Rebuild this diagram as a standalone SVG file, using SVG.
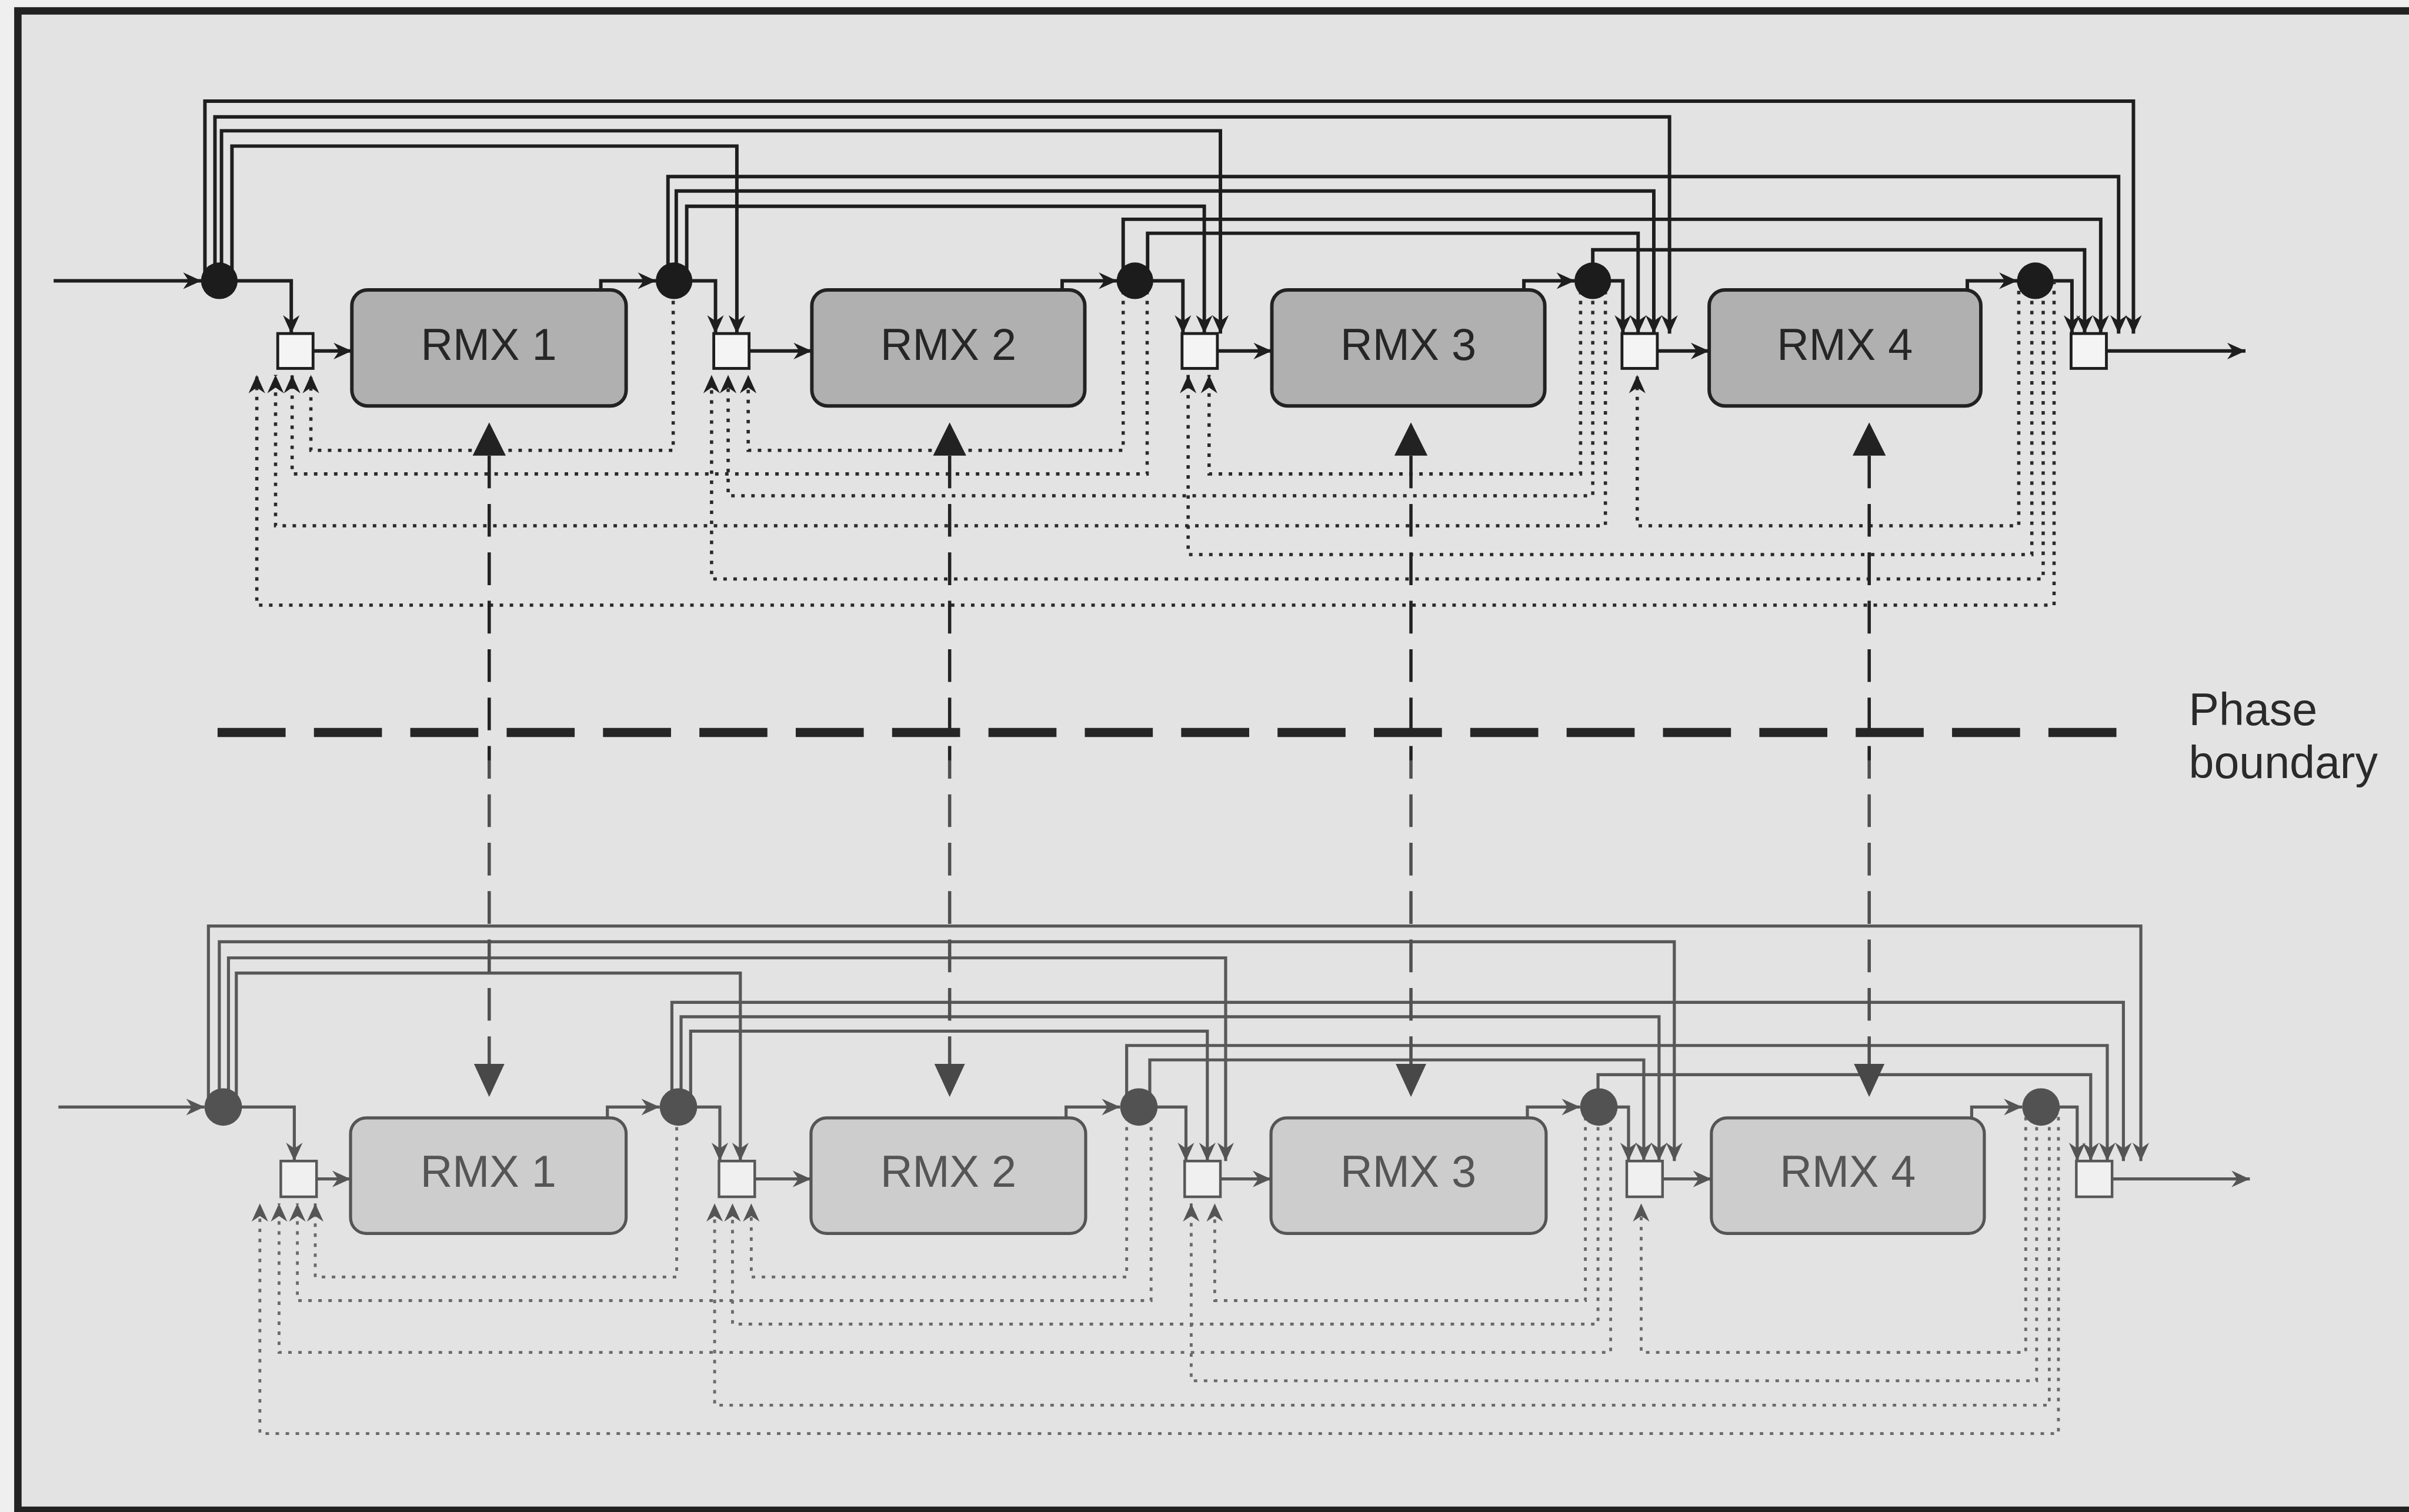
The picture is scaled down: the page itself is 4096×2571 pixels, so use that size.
<svg xmlns="http://www.w3.org/2000/svg" width="4096" height="2571" viewBox="0 0 4096 2571">
<defs>
<marker id="a" viewBox="-44 -22 46 44" markerWidth="46" markerHeight="44" refX="0" refY="0" orient="auto" markerUnits="userSpaceOnUse"><path d="M0,0 L-42,-19 L-29,0 L-42,19 Z" fill="#1e1e1e"/></marker>
<marker id="ag" viewBox="-44 -22 46 44" markerWidth="46" markerHeight="44" refX="0" refY="0" orient="auto" markerUnits="userSpaceOnUse"><path d="M0,0 L-42,-19 L-29,0 L-42,19 Z" fill="#555"/></marker>
<style>
.ln{fill:none;stroke:#1e1e1e;stroke-width:8;marker-end:url(#a)}
.lg{fill:none;stroke:#585858;stroke-width:7;marker-end:url(#ag)}
.dt{fill:none;stroke:#2a2a2a;stroke-width:7.5;stroke-dasharray:8 15;marker-end:url(#a)}
.dg{fill:none;stroke:#6a6a6a;stroke-width:6.5;stroke-dasharray:8 15;marker-end:url(#ag)}
.bt{fill:#1c1c1c}
.bg{fill:#525252}
.mt{fill:#f4f4f4;stroke:#1e1e1e;stroke-width:6.5}
.mg{fill:#f0f0f0;stroke:#585858;stroke-width:6}
.rt{fill:#b0b0b0;stroke:#222;stroke-width:8}
.rg{fill:#cdcdcd;stroke:#555;stroke-width:7}
.tt{font-family:"Liberation Sans",Arial,sans-serif;font-size:102px;fill:#262626;text-anchor:middle}
.tg{font-family:"Liberation Sans",Arial,sans-serif;font-size:102px;fill:#555;text-anchor:middle}
.ph{fill:none;stroke-width:7.5;stroke-dasharray:75 36}
</style>
</defs>
<rect x="0" y="0" width="4096" height="2571" fill="#efefef"/>
<g transform="scale(0.741357)">
<rect id="frame" x="41" y="25" width="5600" height="3439" fill="#e3e3e3" stroke="#222" stroke-width="17"/>

<g id="connectors">
<!-- top phase -->
<path class="ln" d="M123,644 H462"/>
<path class="ln" d="M503,644 H668 V765"/>
<path class="ln" d="M1546,644 H1641 V765"/>
<path class="ln" d="M2603,644 H2713 V765"/>
<path class="ln" d="M3653,644 H3722 V765"/>
<path class="ln" d="M4668,644 H4752 V765"/>
<path class="ln" d="M718,805 H807"/>
<path class="ln" d="M1718,805 H1862"/>
<path class="ln" d="M2792,805 H2917"/>
<path class="ln" d="M3801,805 H3920"/>
<path class="ln" d="M1378,665 V644 H1505"/>
<path class="ln" d="M2436,665 V644 H2562"/>
<path class="ln" d="M3495,665 V644 H3612"/>
<path class="ln" d="M4512,665 V644 H4627"/>
<path class="ln" d="M4831,805 H5150"/>
<path class="ln" d="M470,644 V232 H4893 V765"/>
<path class="ln" d="M493,644 V268 H3829 V765"/>
<path class="ln" d="M508,644 V300 H2799 V765"/>
<path class="ln" d="M532,644 V335 H1690 V765"/>
<path class="ln" d="M1532,644 V405 H4859 V765"/>
<path class="ln" d="M1551,644 V438 H3793 V765"/>
<path class="ln" d="M1575,644 V473 H2762 V765"/>
<path class="ln" d="M2576,644 V503 H4818 V765"/>
<path class="ln" d="M2632,644 V535 H3757 V765"/>
<path class="ln" d="M3653,644 V573 H4781 V765"/>
<path class="dt" d="M1544,644 V1033 H713 V860"/>
<path class="dt" d="M2576,644 V1033 H1716 V860"/>
<path class="dt" d="M2631,644 V1087 H670 V860"/>
<path class="dt" d="M3625,644 V1087 H2773 V860"/>
<path class="dt" d="M3653,644 V1137 H1670 V860"/>
<path class="dt" d="M3682,644 V1206 H632 V860"/>
<path class="dt" d="M4630,644 V1206 H3755 V860"/>
<path class="dt" d="M4660,644 V1272 H2725 V860"/>
<path class="dt" d="M4686,644 V1328 H1632 V860"/>
<path class="dt" d="M4711,644 V1388 H589 V860"/>
<!-- bottom phase -->
<path class="lg" d="M134,2539 H469"/>
<path class="lg" d="M512,2539 H675 V2663"/>
<path class="lg" d="M1556,2539 H1651 V2663"/>
<path class="lg" d="M2612,2539 H2720 V2663"/>
<path class="lg" d="M3667,2539 H3735 V2663"/>
<path class="lg" d="M4681,2539 H4764 V2663"/>
<path class="lg" d="M726,2704 H804"/>
<path class="lg" d="M1731,2704 H1860"/>
<path class="lg" d="M2799,2704 H2915"/>
<path class="lg" d="M3813,2704 H3925"/>
<path class="lg" d="M1393,2564 V2539 H1513"/>
<path class="lg" d="M2445,2564 V2539 H2569"/>
<path class="lg" d="M3503,2564 V2539 H3624"/>
<path class="lg" d="M4522,2564 V2539 H4638"/>
<path class="lg" d="M4844,2704 H5160"/>
<path class="lg" d="M478,2539 V2124 H4910 V2663"/>
<path class="lg" d="M503,2539 V2160 H3840 V2663"/>
<path class="lg" d="M524,2539 V2197 H2811 V2663"/>
<path class="lg" d="M542,2539 V2232 H1698 V2663"/>
<path class="lg" d="M1541,2539 V2299 H4870 V2663"/>
<path class="lg" d="M1562,2539 V2332 H3805 V2663"/>
<path class="lg" d="M1584,2539 V2365 H2769 V2663"/>
<path class="lg" d="M2584,2539 V2398 H4833 V2663"/>
<path class="lg" d="M2637,2539 V2431 H3770 V2663"/>
<path class="lg" d="M3665,2539 V2465 H4795 V2663"/>
<path class="dg" d="M1552,2539 V2929 H723 V2760"/>
<path class="dg" d="M2584,2539 V2929 H1723 V2760"/>
<path class="dg" d="M2640,2539 V2983 H682 V2760"/>
<path class="dg" d="M3636,2539 V2983 H2786 V2760"/>
<path class="dg" d="M3665,2539 V3037 H1680 V2760"/>
<path class="dg" d="M3694,2539 V3102 H640 V2760"/>
<path class="dg" d="M4646,2539 V3102 H3764 V2760"/>
<path class="dg" d="M4671,2539 V3167 H2732 V2760"/>
<path class="dg" d="M4700,2539 V3223 H1639 V2760"/>
<path class="dg" d="M4721,2539 V3288 H596 V2760"/>
<!-- phase links -->
<g id="phase-links">
<path class="ph" stroke="#222" d="M1122,1045 V1745 M2178,1045 V1745 M3236,1045 V1745 M4287,1045 V1745"/>
<path class="ph" stroke="#505050" stroke-dashoffset="34" d="M1122,1745 V2440 M2178,1745 V2440 M3236,1745 V2440 M4287,1745 V2440"/>
<path fill="#222" d="M1122,969 L1084,1045 L1160,1045 Z M2178,969 L2140,1045 L2216,1045 Z M3236,969 L3198,1045 L3274,1045 Z M4287,969 L4249,1045 L4325,1045 Z"/>
<path fill="#484848" d="M1122,2516 L1087,2440 L1157,2440 Z M2178,2516 L2143,2440 L2213,2440 Z M3236,2516 L3201,2440 L3271,2440 Z M4287,2516 L4252,2440 L4322,2440 Z"/>
</g>
</g>

<g id="phase-boundary">
<line x1="499" y1="1680" x2="4855" y2="1680" stroke="#262626" stroke-width="21" stroke-dasharray="156 65"/>
<text x="5020" y="1663" font-family="Liberation Sans, Arial, sans-serif" font-size="104" fill="#2a2a2a">Phase</text>
<text x="5020" y="1785" font-family="Liberation Sans, Arial, sans-serif" font-size="104" fill="#2a2a2a">boundary</text>
</g>

<!-- top phase nodes -->
<g id="t-b0"><circle class="bt" cx="503" cy="644" r="42"/></g>
<g id="t-b1"><circle class="bt" cx="1546" cy="644" r="42"/></g>
<g id="t-b2"><circle class="bt" cx="2603" cy="644" r="42"/></g>
<g id="t-b3"><circle class="bt" cx="3653" cy="644" r="42"/></g>
<g id="t-b4"><circle class="bt" cx="4668" cy="644" r="42"/></g>
<g id="t-m1"><rect class="mt" x="637" y="765" width="81" height="80"/></g>
<g id="t-m2"><rect class="mt" x="1637" y="765" width="81" height="80"/></g>
<g id="t-m3"><rect class="mt" x="2711" y="765" width="81" height="80"/></g>
<g id="t-m4"><rect class="mt" x="3720" y="765" width="81" height="80"/></g>
<g id="t-m5"><rect class="mt" x="4750" y="765" width="81" height="80"/></g>
<g id="t-rmx1"><rect class="rt" x="807" y="665" width="629" height="266" rx="36"/><text class="tt" x="1121" y="826">RMX 1</text></g>
<g id="t-rmx2"><rect class="rt" x="1862" y="665" width="626" height="266" rx="36"/><text class="tt" x="2175" y="826">RMX 2</text></g>
<g id="t-rmx3"><rect class="rt" x="2917" y="665" width="626" height="266" rx="36"/><text class="tt" x="3230" y="826">RMX 3</text></g>
<g id="t-rmx4"><rect class="rt" x="3920" y="665" width="623" height="266" rx="36"/><text class="tt" x="4231" y="826">RMX 4</text></g>

<!-- bottom phase nodes -->
<g id="b-b0"><circle class="bg" cx="512" cy="2539" r="43"/></g>
<g id="b-b1"><circle class="bg" cx="1556" cy="2539" r="43"/></g>
<g id="b-b2"><circle class="bg" cx="2612" cy="2539" r="43"/></g>
<g id="b-b3"><circle class="bg" cx="3667" cy="2539" r="43"/></g>
<g id="b-b4"><circle class="bg" cx="4681" cy="2539" r="43"/></g>
<g id="b-m1"><rect class="mg" x="644" y="2663" width="82" height="82"/></g>
<g id="b-m2"><rect class="mg" x="1649" y="2663" width="82" height="82"/></g>
<g id="b-m3"><rect class="mg" x="2717" y="2663" width="82" height="82"/></g>
<g id="b-m4"><rect class="mg" x="3731" y="2663" width="82" height="82"/></g>
<g id="b-m5"><rect class="mg" x="4762" y="2663" width="82" height="82"/></g>
<g id="b-rmx1"><rect class="rg" x="804" y="2564" width="632" height="265" rx="36"/><text class="tg" x="1120" y="2722">RMX 1</text></g>
<g id="b-rmx2"><rect class="rg" x="1860" y="2564" width="630" height="265" rx="36"/><text class="tg" x="2175" y="2722">RMX 2</text></g>
<g id="b-rmx3"><rect class="rg" x="2915" y="2564" width="631" height="265" rx="36"/><text class="tg" x="3230" y="2722">RMX 3</text></g>
<g id="b-rmx4"><rect class="rg" x="3925" y="2564" width="626" height="265" rx="36"/><text class="tg" x="4238" y="2722">RMX 4</text></g>
</g>
</svg>
